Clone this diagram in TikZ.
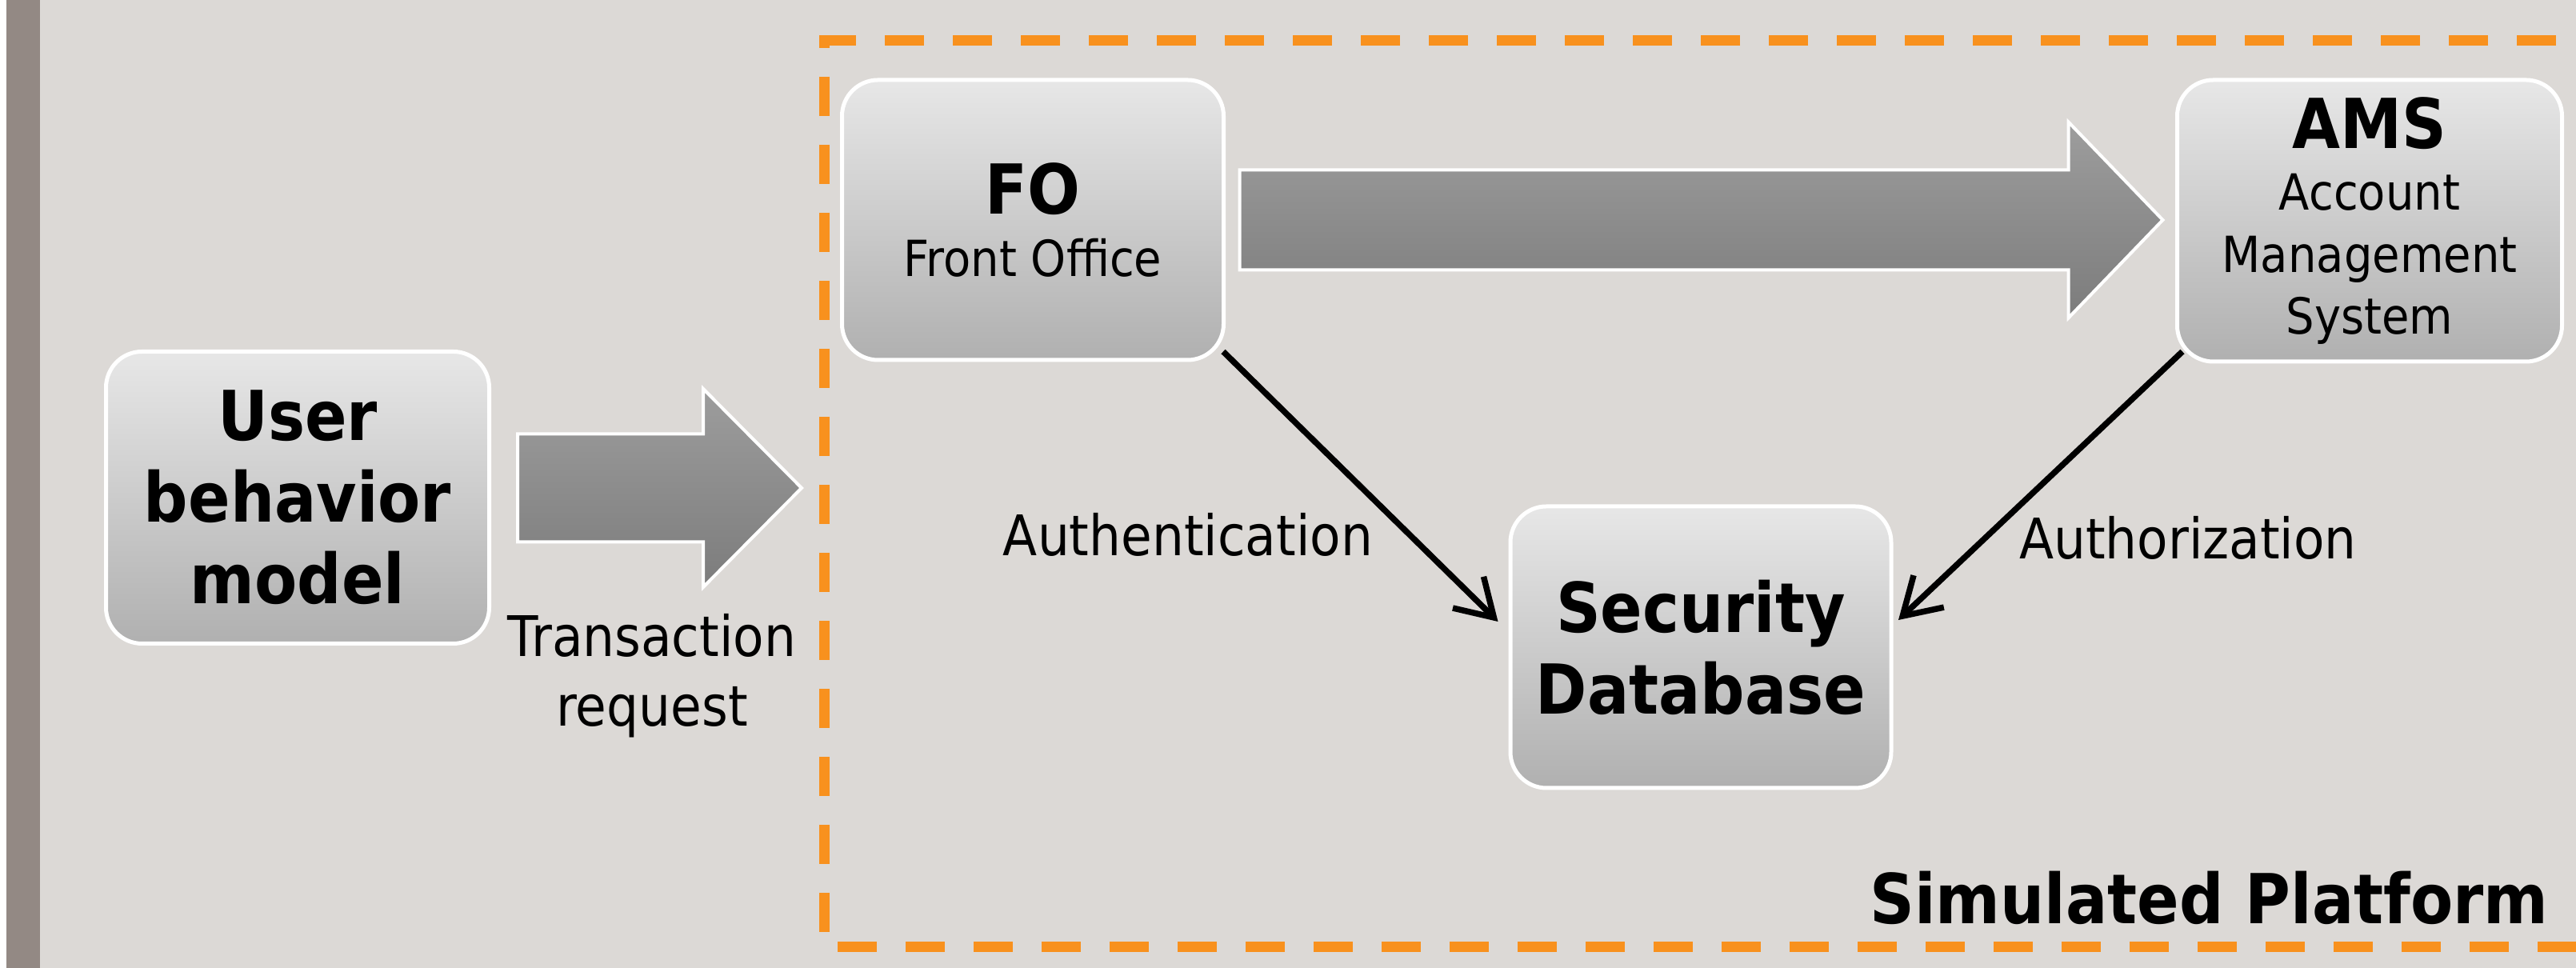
\documentclass[tikz,border=0pt]{standalone}
\usepackage{fontspec}
\setmainfont{DejaVu Sans}[FakeStretch=0.9]
\usepackage{tikz}
\usetikzlibrary{calc,positioning}
\usetikzlibrary{arrows.meta}

\definecolor{bgcol}{RGB}{220,217,214}
\definecolor{barcol}{RGB}{147,137,132}
\definecolor{dashcol}{RGB}{248,145,30}
\definecolor{boxtop}{RGB}{231,231,231}
\definecolor{boxbot}{RGB}{176,176,176}
\definecolor{arrtop}{RGB}{157,157,157}
\definecolor{arrbot}{RGB}{124,124,124}

\newcommand{\boxtitle}{\fontsize{24.5pt}{29pt}\selectfont\bfseries}
\newcommand{\boxsub}{\fontsize{17.7pt}{22pt}\selectfont}
\newcommand{\lblfont}{\fontsize{19.9pt}{24.7pt}\selectfont}

\tikzset{
  box/.style={rounded corners=0.45cm, draw=white, line width=0.05cm,
    top color=boxtop, bottom color=boxbot, align=center, inner sep=0pt},
  blockarr/.style={draw=white, line width=0.04cm, top color=arrtop, bottom color=arrbot},
  conn/.style={line width=0.075cm, -{Straight Barb[length=0.45cm,width=0.55cm]}},
  lbl/.style={font=\lblfont, align=center, inner sep=0pt}
}

\begin{document}
\begin{tikzpicture}
        \useasboundingbox (0,0) rectangle (32.2,12.1);
        \fill[bgcol] (0,0) rectangle (32.2,12.1);
        \fill[white] (0,0) rectangle (0.08,12.1);
        \fill[barcol] (0.08,0) rectangle (0.50,12.1);

        %simulated platform frame
        \draw[dashcol, line width=0.13cm, dash pattern=on 0.49cm off 0.36cm]
            (32.8,11.59) -- (10.30,11.59) -- (10.30,0.26) -- (32.8,0.26);

        \node[box, minimum width=4.79cm, minimum height=3.65cm, font=\boxtitle] (ubm) at (3.72,5.88) {User\\behavior\\model};
        \node[box, minimum width=4.77cm, minimum height=3.50cm, font=\boxsub] (fo) at (12.91,9.35) {{\boxtitle FO}\\Front Office};
        \node[box, minimum width=4.81cm, minimum height=3.52cm, font=\boxsub] (ams) at (29.62,9.34) {{\boxtitle AMS}\\Account\\Management\\System};
        \node[box, minimum width=4.76cm, minimum height=3.52cm, font=\boxtitle] (sdb) at (21.26,4.01) {Security\\Database};

        %block arrows
        \draw[blockarr] ([xshift=0.33cm,yshift=0.12cm]ubm.east) ++(0,0.675) -- ++(2.32,0) -- ++(0,0.565)
            -- ++(1.23,-1.24) -- ++(-1.23,-1.24) -- ++(0,0.565) -- ++(-2.32,0) -- cycle;
        \draw[blockarr] ([xshift=0.175cm]fo.east) ++(0,0.625) -- ++(10.36,0) -- ++(0,0.6)
            -- ++(1.18,-1.225) -- ++(-1.18,-1.225) -- ++(0,0.6) -- ++(-10.36,0) -- cycle;

        \draw[conn] ([xshift=-0.3mm,yshift=1.3mm]fo.south east) -- ([xshift=-1.3mm,yshift=3.2mm]sdb.west);
        \draw[conn] ([xshift=0.9mm,yshift=1.5mm]ams.south west) -- ([xshift=0.65mm,yshift=3.4mm]sdb.east);

        \node[lbl] (treq) at (8.15,3.65) {Transaction\\request};
        \node[lbl] (authn) at (14.85,5.42) {Authentication};
        \node[lbl] (authz) at (27.35,5.38) {Authorization};
        \node[font=\boxtitle, anchor=east, inner sep=0pt] (simp) at (31.86,0.88) {Simulated Platform};
\end{tikzpicture}
\end{document}
